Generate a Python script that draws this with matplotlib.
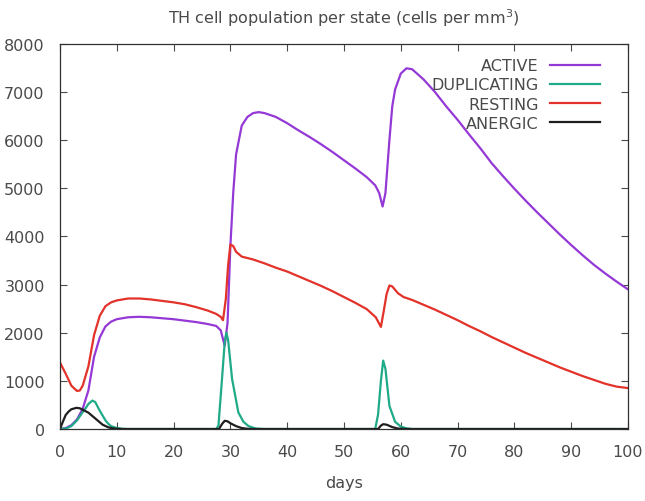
import matplotlib.pyplot as plt

# ==========================
# DATA
# ==========================

active_days = [0, 1, 2, 3, 4, 5, 6, 7, 8, 9, 10, 12, 14, 16, 18, 20, 22, 24, 26, 27.5,
               28.3, 29, 29.5, 30, 30.5, 31, 32, 33, 34, 35, 36, 38, 40, 42, 44, 46, 48,
               50, 52, 54, 55.5, 56.2, 56.8, 57.3, 58, 58.5, 59, 60, 61, 62, 64, 66, 68,
               70, 72, 74, 76, 78, 80, 82, 84, 86, 88, 90, 92, 94, 96, 98, 100]
active = [0, 20, 80, 200, 420, 800, 1500, 1900, 2130, 2230, 2280, 2320, 2330, 2320, 2300,
          2280, 2250, 2220, 2180, 2140, 2050, 1730, 2200, 3800, 4900, 5700, 6300, 6480,
          6560, 6580, 6560, 6480, 6350, 6200, 6060, 5910, 5750, 5580, 5410, 5230, 5060,
          4900, 4620, 4900, 6000, 6700, 7050, 7380, 7490, 7470, 7260, 7000, 6700, 6420,
          6120, 5830, 5520, 5250, 4990, 4740, 4500, 4270, 4040, 3820, 3610, 3410, 3230,
          3060, 2900]

dup_days = [0, 1, 2, 3, 4, 4.5, 5, 5.7, 6.2, 7, 8, 8.5, 9, 10, 11, 12, 27.5, 27.9, 28.5,
            29, 29.3, 29.6, 30.3, 31.4, 32.3, 33.2, 34.5, 36, 55.5, 56, 56.5, 56.9, 57.3,
            58, 59, 60, 61, 62, 100]
duplicating = [0, 10, 60, 180, 350, 430, 520, 590, 560, 380, 180, 110, 60, 20, 5, 0, 0,
               70, 1000, 1800, 2000, 1850, 1040, 345, 150, 60, 10, 0, 0, 300, 1000, 1420,
               1250, 480, 150, 50, 15, 0, 0]

rest_days = [0, 1, 2, 3, 3.5, 4, 5, 6, 7, 8, 9, 10, 12, 14, 16, 18, 20, 22, 24, 26, 27.5,
             28.3, 28.7, 29.2, 29.6, 30, 30.5, 31, 32, 34, 36, 38, 40, 42, 44, 46, 48, 50,
             52, 54, 55.6, 56.5, 57, 57.5, 58, 58.5, 59.5, 60.5, 62, 64, 66, 68, 70, 72,
             74, 76, 78, 80, 82, 84, 86, 88, 90, 92, 94, 96, 98, 100]
resting = [1380, 1150, 900, 790, 800, 900, 1300, 1950, 2350, 2550, 2630, 2670, 2710, 2710,
           2690, 2660, 2630, 2590, 2530, 2460, 2390, 2330, 2260, 2700, 3400, 3830, 3800,
           3680, 3580, 3520, 3440, 3350, 3270, 3170, 3070, 2970, 2860, 2740, 2620, 2490,
           2320, 2120, 2450, 2800, 2980, 2960, 2820, 2740, 2680, 2580, 2480, 2370, 2260,
           2140, 2030, 1910, 1800, 1690, 1580, 1480, 1380, 1280, 1190, 1100, 1020, 940,
           880, 850]

anergic_days = [0, 0.5, 1, 1.5, 2, 2.9, 3.5, 4, 5, 6, 6.7, 7.5, 8.5, 9.5, 11, 28, 28.5, 29,
                29.5, 30, 31, 32, 33, 34, 56, 56.5, 56.9, 57.5, 58.5, 59.5, 61, 100]
anergic = [0, 150, 290, 360, 410, 440, 430, 400, 340, 240, 170, 90, 35, 10, 0, 0, 100,
           170, 160, 120, 60, 20, 5, 0, 0, 70, 100, 90, 40, 10, 0, 0]

x_ticks = list(range(0, 101, 10))
y_ticks = list(range(0, 8001, 1000))

# ==========================
# PLOT
# ==========================

text_color = "#4a4a4a"

fig = plt.figure(figsize=(6.45, 5.02), dpi=100)
ax = fig.add_axes([0.093, 0.1434, 0.8806, 0.7675])

ax.plot(active_days, active, color="#9438d6", lw=1.6, label="ACTIVE")
ax.plot(dup_days, duplicating, color="#1faa88", lw=1.6, label="DUPLICATING")
ax.plot(rest_days, resting, color="#e2322a", lw=1.6, label="RESTING")
ax.plot(anergic_days, anergic, color="#1e1e1e", lw=1.6, label="ANERGIC")

ax.set_xlim(0, 100)
ax.set_ylim(0, 8000)
ax.set_xticks(x_ticks)
ax.set_yticks(y_ticks)

ax.tick_params(direction="in", top=True, right=True, length=5, width=0.8,
               labelsize=11.5, colors=text_color)
ax.tick_params(axis="x", pad=11)
ax.tick_params(axis="y", pad=11)
for s in ax.spines.values():
    s.set_color("#303030")
    s.set_linewidth(0.9)

ax.set_title("TH cell population per state (cells per mm$^3$)",
             fontsize=11.5, color=text_color, pad=15)
ax.set_xlabel("days", fontsize=11.5, color=text_color, labelpad=11)

leg = ax.legend(loc="upper right", bbox_to_anchor=(0.962, 0.979), frameon=False,
                markerfirst=False, fontsize=11.5, handlelength=3.1,
                labelspacing=0.26, borderaxespad=0, handletextpad=0.75)
for t in leg.get_texts():
    t.set_color(text_color)
    t.set_ha("right")

plt.savefig("out.png", dpi=100)
plt.close()
